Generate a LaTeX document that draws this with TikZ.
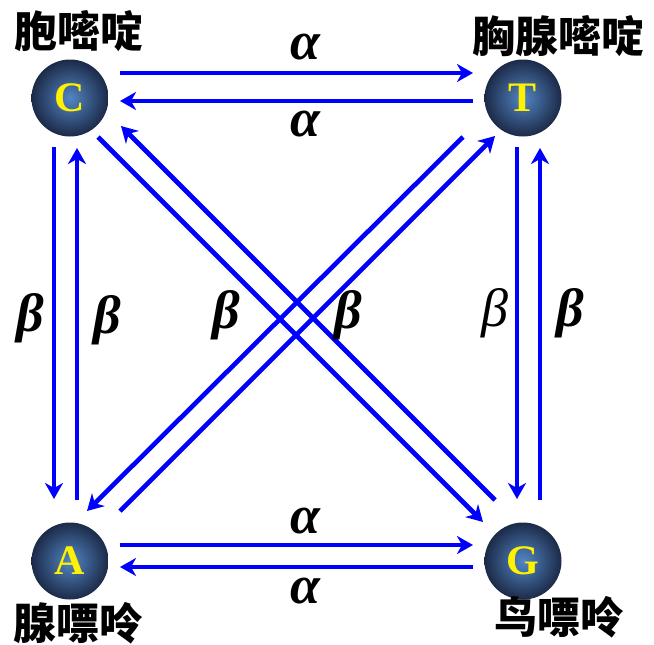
\documentclass[tikz,border=0pt]{standalone}
\usepackage{fontspec}
\setmainfont{Liberation Serif}
\newfontfamily\cjkfont{Noto Sans CJK SC}
\usetikzlibrary{arrows.meta,calc}
\definecolor{arrowblue}{RGB}{0,0,255}
\definecolor{ballin}{RGB}{82,134,196}
\definecolor{ballout}{RGB}{28,42,72}
\tikzset{
  base/.style={circle, minimum size=77pt, inner sep=0pt, shading=radial, inner color=ballin, outer color=ballout, text=yellow, font=\fontsize{42}{46}\selectfont\bfseries},
  conn/.style={draw=arrowblue, line width=4.6pt, -{Stealth[length=16pt,width=18pt,inset=5pt]}},
  namelbl/.style={font=\cjkfont\fontsize{43}{47}\selectfont\bfseries, inner sep=0pt},
  greek/.style={font=\fontsize{54}{58}\selectfont\bfseries\itshape, inner sep=0pt},
  greeklight/.style={font=\fontsize{54}{58}\selectfont\itshape, inner sep=0pt}
}
\begin{document}
\begin{tikzpicture}[x=1pt,y=-1pt]
\useasboundingbox (0,0) rectangle (654,645);
\node[base] (C) at (70,98) {C};
\node[base] (T) at (523,98) {T};
\node[base] (A) at (70,561) {A};
\node[base] (G) at (523,561) {G};
\node[namelbl] (lc) at (79,31) {胞嘧啶};
\node[namelbl] (lt) at (558,36) {胸腺嘧啶};
\node[namelbl] (la) at (78,623) {腺嘌呤};
\node[namelbl] (lg) at (559,617) {鸟嘌呤};
% endpoints
\coordinate (ct1) at ($(C)+(50,-25)$);
\coordinate (ct2) at ($(T)+(-50,-25)$);
\coordinate (tc1) at ($(T)+(-50,3)$);
\coordinate (tc2) at ($(C)+(50,3)$);
\coordinate (ag1) at ($(A)+(50,-16)$);
\coordinate (ag2) at ($(G)+(-50,-16)$);
\coordinate (ga1) at ($(G)+(-50,6)$);
\coordinate (ga2) at ($(A)+(50,6)$);
\coordinate (ca1) at ($(C)+(-16,49)$);
\coordinate (ca2) at ($(A)+(-16,-62)$);
\coordinate (ac1) at ($(A)+(7,-61)$);
\coordinate (ac2) at ($(C)+(7,50)$);
\coordinate (tg1) at ($(T)+(-6,49)$);
\coordinate (tg2) at ($(G)+(-6,-62)$);
\coordinate (gt1) at ($(G)+(17,-61)$);
\coordinate (gt2) at ($(T)+(17,50)$);
\coordinate (cg1) at ($(C)+(28,39)$);
\coordinate (cg2) at ($(G)+(-40,-39)$);
\coordinate (gc1) at ($(G)+(-28,-61)$);
\coordinate (gc2) at ($(C)+(51,28)$);
\coordinate (ta1) at ($(T)+(-60,39)$);
\coordinate (ta2) at ($(A)+(17,-50)$);
\coordinate (at1) at ($(A)+(50,-50)$);
\coordinate (at2) at ($(T)+(-28,38)$);
\draw[conn] (ct1) -- (ct2);
\draw[conn] (tc1) -- (tc2);
\draw[conn] (ag1) -- (ag2);
\draw[conn] (ga1) -- (ga2);
\draw[conn] (ca1) -- (ca2);
\draw[conn] (ac1) -- (ac2);
\draw[conn] (tg1) -- (tg2);
\draw[conn] (gt1) -- (gt2);
\draw[conn] (cg1) -- (cg2);
\draw[conn] (gc1) -- (gc2);
\draw[conn] (ta1) -- (ta2);
\draw[conn] (at1) -- (at2);
% labels
\node[greek] (a1) at (305,47) {α};
\node[greek] (a2) at (305,124) {α};
\node[greek] (a3) at (305,521) {α};
\node[greek] (a4) at (305,591) {α};
\node[greek] (b1) at (30,318) {β};
\node[greek] (b2) at (107,320) {β};
\node[greek] (b3) at (226,315) {β};
\node[greek] (b4) at (348,315) {β};
\node[greeklight] (b5) at (495,313) {β};
\node[greek] (b6) at (570,313) {β};
\end{tikzpicture}
\end{document}
